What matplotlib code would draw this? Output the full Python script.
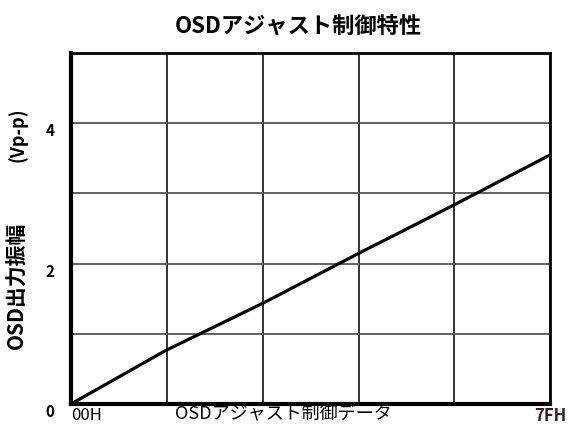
import matplotlib.pyplot as plt

plt.rcParams['font.family'] = ['Noto Sans CJK JP', 'DejaVu Sans']

# control data (0x00..0x7F) vs OSD output amplitude
data = [0, 25, 51, 76, 102, 127]
amp = [0, 0.76, 1.44, 2.14, 2.85, 3.55]

x_ticks = [0, 127]
x_labels = ['00H', '7FH']
y_ticks = [0, 2, 4]

fig = plt.figure(figsize=(5.69, 4.32), dpi=100)
ax = fig.add_axes([0.125, 0.065, 0.842, 0.812])

ax.plot(data, amp, color='black', lw=2.3, solid_capstyle='butt')

ax.set_xlim(0, 127)
ax.set_ylim(0, 5)

ax.set_xticks(x_ticks)
ax.set_xticklabels(x_labels, fontsize=12)
ax.set_xticks([127 * i / 5 for i in range(1, 5)], minor=True)
ax.set_yticks(y_ticks)
ax.set_yticklabels([str(v) for v in y_ticks], fontsize=11, fontweight='bold')
ax.set_yticks([1, 3], minor=True)
ax.tick_params(which='both', length=0)
ax.tick_params(axis='x', pad=2)
ax.tick_params(axis='y', pad=12)
for lab in ax.get_yticklabels():
    lab.set_va('top')
ax.get_xticklabels()[0].set_ha('left')
ax.get_xticklabels()[1].set_color('#3a1f1f')
ax.get_xticklabels()[1].set_fontweight('bold')

ax.grid(True, which='both', axis='x', color='#222222', lw=1.3)
ax.grid(True, which='both', axis='y', color='#555555', lw=1.3)
ax.set_axisbelow(True)

ax.spines['left'].set_linewidth(3)
ax.spines['bottom'].set_linewidth(3)
ax.spines['top'].set_linewidth(2)
ax.spines['right'].set_linewidth(2)

ax.set_title('OSDアジャスト制御特性', fontsize=16, fontweight='bold', pad=14, x=0.475)
ax.set_xlabel('OSDアジャスト制御データ', fontsize=13)
ax.xaxis.set_label_coords(0.443, -0.005)
ax.xaxis.label.set_va('top')

# vertical axis title in two pieces: quantity and unit
fig.text(0.03, 1 - 285 / 432, 'OSD出力振幅', rotation=90, fontsize=15,
         fontweight='bold', ha='center', va='center')
fig.text(0.03, 1 - 135 / 432, '(Vp-p)', rotation=90, fontsize=13,
         fontweight='bold', ha='center', va='center')

fig.savefig('out.png', dpi=100)
